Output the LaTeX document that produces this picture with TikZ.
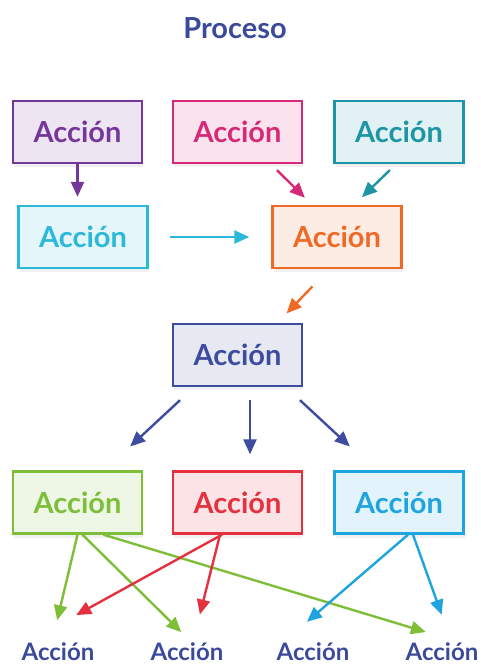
\documentclass[tikz,border=0pt]{standalone}
\usepackage{fontspec}
\setmainfont{Lato}
\usetikzlibrary{arrows.meta,shadows}
\definecolor{titulo}{HTML}{3B4A9B}
\definecolor{morado}{HTML}{76379A}
\definecolor{rosa}{HTML}{D62A78}
\definecolor{verdeazul}{HTML}{1E95A5}
\definecolor{celeste}{HTML}{2CB8D8}
\definecolor{naranja}{HTML}{EF6A26}
\definecolor{azul}{HTML}{3D4C9E}
\definecolor{verde}{HTML}{7EBE38}
\definecolor{rojo}{HTML}{E5303F}
\definecolor{cielo}{HTML}{1EA5E0}
\tikzset{
  accion/.style={draw=#1, fill=#1!13, text=#1, line width=2.4pt,
    minimum width=129pt, minimum height=62pt, inner sep=0pt,
    font=\bfseries\fontsize{29}{31}\selectfont,
    drop shadow={shadow xshift=1pt, shadow yshift=-4pt, opacity=.12}},
  flecha/.style={draw=#1, line width=2.4pt, -{Triangle[length=15pt,width=13pt,fill=#1]}},
  salida/.style={text=titulo, font=\bfseries\fontsize{24}{26}\selectfont,
    anchor=base, inner sep=0pt, text height=22pt, text depth=2pt},
}
\begin{document}
\begin{tikzpicture}[x=1pt,y=-1pt]
\useasboundingbox (0,0) rectangle (481,664);
\node (titulo) at (235,28) [text=titulo, font=\bfseries\fontsize{29}{31}\selectfont] {Proceso};

% primera fila
\node (morado) at (77.5,132) [accion=morado] {Acción};
\node (rosa) at (237.5,132) [accion=rosa] {Acción};
\node (verdeazul) at (399,132) [accion=verdeazul] {Acción};

% segunda fila
\node (celeste) at (83,237) [accion=celeste] {Acción};
\node (naranja) at (337,237) [accion=naranja] {Acción};

\node (azul) at (237.5,355) [accion=azul] {Acción};

% tercera fila
\node (verde) at (77.5,502.5) [accion=verde] {Acción};
\node (rojo) at (237.5,502.5) [accion=rojo] {Acción};
\node (cielo) at (399,502.5) [accion=cielo] {Acción};

% salidas
\node (s1) at (58,660) [salida] {Acción};
\node (s2) at (187,660) [salida] {Acción};
\node (s3) at (313,660) [salida] {Acción};
\node (s4) at (442,660) [salida] {Acción};

\draw[flecha=morado, shorten >=8pt] (morado.south) -- ([xshift=-5.5pt]celeste.north);
\draw[flecha=rosa, shorten <=8.5pt, shorten >=10pt] ([xshift=33.5pt]rosa.south) -- ([xshift=-25pt]naranja.north);
\draw[flecha=verdeazul, shorten <=8.5pt, shorten >=11pt] ([xshift=-3pt]verdeazul.south) -- ([xshift=17pt]naranja.north);
\draw[flecha=celeste, shorten <=21pt, shorten >=22pt] (celeste.east) -- (naranja.west);
\draw[flecha=naranja, shorten <=24pt, shorten >=13pt] ([xshift=-8pt]naranja.south) -- ([xshift=40pt]azul.north);

\draw[flecha=azul, shorten <=19pt, shorten >=35pt] ([xshift=-43.5pt]azul.south) -- ([xshift=27pt]verde.north);
\draw[flecha=azul, shorten <=13pt, shorten >=16pt] ([xshift=12.5pt]azul.south) -- ([xshift=12.5pt]rojo.north);
\draw[flecha=azul, shorten <=19pt, shorten >=35pt] ([xshift=48.5pt]azul.south) -- ([xshift=-23.5pt]cielo.north);

\draw[flecha=verde, shorten >=18pt] (verde.south) -- ([xshift=-5pt]s1.north);
\draw[flecha=verde, shorten >=8pt] ([xshift=5pt]verde.south) -- (s2.north);
\draw[flecha=verde, shorten >=20pt] ([xshift=26pt]verde.south) -- ([xshift=3pt]s4.north);
\draw[flecha=rojo, shorten >=47pt] ([xshift=-15.5pt]rojo.south) -- ([xshift=-23pt]s1.north);
\draw[flecha=rojo, shorten >=24pt] ([xshift=-17.5pt]rojo.south) -- ([xshift=7pt]s2.north);
\draw[flecha=cielo, shorten >=24.5pt] ([xshift=9pt]cielo.south) -- ([xshift=-24.6pt]s3.north);
\draw[flecha=cielo, shorten >=24.5pt] ([xshift=14pt]cielo.south) -- ([xshift=8pt]s4.north);
\end{tikzpicture}
\end{document}
